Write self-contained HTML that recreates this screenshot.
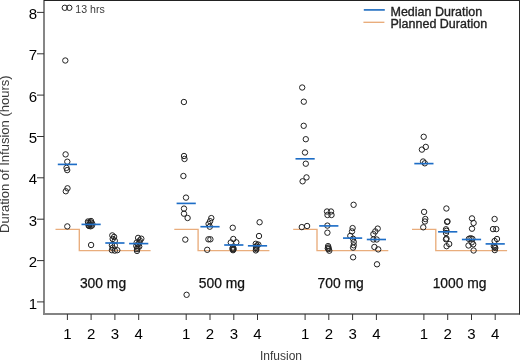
<!DOCTYPE html><html><head><meta charset="utf-8"><style>html,body{margin:0;padding:0;background:#fff;}svg{display:block;will-change:transform;}text{font-family:"Liberation Sans",sans-serif;}</style></head><body>
<svg width="520" height="360" viewBox="0 0 520 360">
<rect width="520" height="360" fill="#fff"/>
<path d="M55.5 229.3 H79.3 V250.6 H150.6" fill="none" stroke="#e9ad7c" stroke-width="1.35"/>
<path d="M174.3 229.3 H198.1 V250.6 H269.4" fill="none" stroke="#e9ad7c" stroke-width="1.35"/>
<path d="M293.2 229.3 H317.0 V250.6 H388.3" fill="none" stroke="#e9ad7c" stroke-width="1.35"/>
<path d="M412.0 229.3 H435.8 V250.6 H507.1" fill="none" stroke="#e9ad7c" stroke-width="1.35"/>
<g fill="none" stroke="#222" stroke-width="1.0">
<circle cx="64.8" cy="7.8" r="2.7"/>
<circle cx="69.3" cy="7.8" r="2.7"/>
<circle cx="65.3" cy="60.5" r="2.7"/>
<circle cx="65.6" cy="154.4" r="2.7"/>
<circle cx="67.3" cy="161.7" r="2.7"/>
<circle cx="66.5" cy="167.9" r="2.7"/>
<circle cx="67.2" cy="170.1" r="2.7"/>
<circle cx="67.5" cy="188.3" r="2.7"/>
<circle cx="65.8" cy="191.25" r="2.7"/>
<circle cx="67.3" cy="226.4" r="2.7"/>
<circle cx="88" cy="221.5" r="2.7"/>
<circle cx="91" cy="221" r="2.7"/>
<circle cx="89.5" cy="224" r="2.7"/>
<circle cx="92" cy="225.5" r="2.7"/>
<circle cx="89" cy="226" r="2.7"/>
<circle cx="88.2" cy="222.8" r="2.7"/>
<circle cx="90.5" cy="222.2" r="2.7"/>
<circle cx="92.2" cy="223.5" r="2.7"/>
<circle cx="88.5" cy="225.2" r="2.7"/>
<circle cx="90.6" cy="226.3" r="2.7"/>
<circle cx="91.1" cy="245" r="2.7"/>
<circle cx="112.3" cy="235.4" r="2.7"/>
<circle cx="114.1" cy="236.9" r="2.7"/>
<circle cx="112.7" cy="239" r="2.7"/>
<circle cx="114.8" cy="240.8" r="2.7"/>
<circle cx="111.9" cy="245.2" r="2.7"/>
<circle cx="114.8" cy="245.5" r="2.7"/>
<circle cx="112.7" cy="247.7" r="2.7"/>
<circle cx="111.9" cy="250.2" r="2.7"/>
<circle cx="114.8" cy="250.6" r="2.7"/>
<circle cx="117.3" cy="250.2" r="2.7"/>
<circle cx="138.1" cy="237.9" r="2.7"/>
<circle cx="141.3" cy="238.7" r="2.7"/>
<circle cx="136.7" cy="242.6" r="2.7"/>
<circle cx="139.5" cy="242.3" r="2.7"/>
<circle cx="136.3" cy="245.9" r="2.7"/>
<circle cx="139.2" cy="246.6" r="2.7"/>
<circle cx="137" cy="249.1" r="2.7"/>
<circle cx="137" cy="250.9" r="2.7"/>
<circle cx="138" cy="244.2" r="2.7"/>
<circle cx="137.6" cy="247.6" r="2.7"/>
<circle cx="139.8" cy="240.4" r="2.7"/>
<circle cx="183.9" cy="102" r="2.7"/>
<circle cx="184" cy="156" r="2.7"/>
<circle cx="184.5" cy="159" r="2.7"/>
<circle cx="183.4" cy="176" r="2.7"/>
<circle cx="186" cy="197.6" r="2.7"/>
<circle cx="184" cy="208.6" r="2.7"/>
<circle cx="184" cy="213.7" r="2.7"/>
<circle cx="187.6" cy="218" r="2.7"/>
<circle cx="185.3" cy="239.6" r="2.7"/>
<circle cx="186.6" cy="294.8" r="2.7"/>
<circle cx="211.3" cy="218.1" r="2.7"/>
<circle cx="210.1" cy="221.2" r="2.7"/>
<circle cx="208.6" cy="223.9" r="2.7"/>
<circle cx="209.8" cy="226.7" r="2.7"/>
<circle cx="208.4" cy="239.3" r="2.7"/>
<circle cx="210.4" cy="239.3" r="2.7"/>
<circle cx="207.2" cy="249.8" r="2.7"/>
<circle cx="232.75" cy="227.75" r="2.7"/>
<circle cx="233.3" cy="239" r="2.7"/>
<circle cx="236.3" cy="242.3" r="2.7"/>
<circle cx="230.8" cy="242.5" r="2.7"/>
<circle cx="233" cy="247.5" r="2.7"/>
<circle cx="233" cy="250.2" r="2.7"/>
<circle cx="233.6" cy="249" r="2.7"/>
<circle cx="232.4" cy="248.6" r="2.7"/>
<circle cx="233" cy="249.4" r="2.7"/>
<circle cx="259.6" cy="222.25" r="2.7"/>
<circle cx="259" cy="236" r="2.7"/>
<circle cx="255.8" cy="243.8" r="2.7"/>
<circle cx="258.3" cy="244.6" r="2.7"/>
<circle cx="256.3" cy="246.8" r="2.7"/>
<circle cx="255.8" cy="250.4" r="2.7"/>
<circle cx="256.4" cy="249.2" r="2.7"/>
<circle cx="256" cy="248" r="2.7"/>
<circle cx="257" cy="245.5" r="2.7"/>
<circle cx="302.2" cy="87.5" r="2.7"/>
<circle cx="303.8" cy="101.7" r="2.7"/>
<circle cx="303.7" cy="125.8" r="2.7"/>
<circle cx="305.8" cy="139.2" r="2.7"/>
<circle cx="305" cy="152.5" r="2.7"/>
<circle cx="305.8" cy="163.7" r="2.7"/>
<circle cx="306.5" cy="177.4" r="2.7"/>
<circle cx="302.6" cy="181.3" r="2.7"/>
<circle cx="301.8" cy="227.1" r="2.7"/>
<circle cx="307.1" cy="226" r="2.7"/>
<circle cx="327" cy="211.5" r="2.7"/>
<circle cx="331" cy="211.5" r="2.7"/>
<circle cx="327.5" cy="215" r="2.7"/>
<circle cx="331.5" cy="215" r="2.7"/>
<circle cx="327.4" cy="225.6" r="2.7"/>
<circle cx="327.4" cy="232.7" r="2.7"/>
<circle cx="328.1" cy="246.1" r="2.7"/>
<circle cx="328.7" cy="249.1" r="2.7"/>
<circle cx="329.3" cy="250.7" r="2.7"/>
<circle cx="327.8" cy="248.4" r="2.7"/>
<circle cx="328.4" cy="247.5" r="2.7"/>
<circle cx="353.6" cy="204.8" r="2.7"/>
<circle cx="352.6" cy="228.1" r="2.7"/>
<circle cx="352" cy="231.4" r="2.7"/>
<circle cx="350.3" cy="235.9" r="2.7"/>
<circle cx="353.1" cy="238.7" r="2.7"/>
<circle cx="353.7" cy="242" r="2.7"/>
<circle cx="353.7" cy="245.3" r="2.7"/>
<circle cx="353.1" cy="247.6" r="2.7"/>
<circle cx="353.1" cy="257.3" r="2.7"/>
<circle cx="377.7" cy="228.6" r="2.7"/>
<circle cx="375.3" cy="231.4" r="2.7"/>
<circle cx="373.4" cy="234.1" r="2.7"/>
<circle cx="373.4" cy="239.5" r="2.7"/>
<circle cx="376.7" cy="239.5" r="2.7"/>
<circle cx="374.4" cy="247" r="2.7"/>
<circle cx="378.2" cy="249.4" r="2.7"/>
<circle cx="377" cy="264.3" r="2.7"/>
<circle cx="423.7" cy="136.8" r="2.7"/>
<circle cx="425.8" cy="146.9" r="2.7"/>
<circle cx="421.9" cy="149.6" r="2.7"/>
<circle cx="423.1" cy="161.5" r="2.7"/>
<circle cx="424.8" cy="163.3" r="2.7"/>
<circle cx="424.1" cy="211.9" r="2.7"/>
<circle cx="425.3" cy="219" r="2.7"/>
<circle cx="424.9" cy="221.5" r="2.7"/>
<circle cx="423.25" cy="227.3" r="2.7"/>
<circle cx="446.4" cy="208.5" r="2.7"/>
<circle cx="447.1" cy="221.9" r="2.7"/>
<circle cx="447.5" cy="221.4" r="2.7"/>
<circle cx="446" cy="229.3" r="2.7"/>
<circle cx="446.4" cy="230.8" r="2.7"/>
<circle cx="446" cy="233" r="2.7"/>
<circle cx="446" cy="239.3" r="2.7"/>
<circle cx="446.5" cy="238.6" r="2.7"/>
<circle cx="449.2" cy="244" r="2.7"/>
<circle cx="446.6" cy="246.2" r="2.7"/>
<circle cx="472" cy="218.4" r="2.7"/>
<circle cx="473.6" cy="223" r="2.7"/>
<circle cx="472" cy="228.7" r="2.7"/>
<circle cx="468.9" cy="238.9" r="2.7"/>
<circle cx="470.6" cy="238.2" r="2.7"/>
<circle cx="472.4" cy="238.9" r="2.7"/>
<circle cx="471.7" cy="242.4" r="2.7"/>
<circle cx="468.5" cy="245.5" r="2.7"/>
<circle cx="473.2" cy="244.3" r="2.7"/>
<circle cx="473.6" cy="250.5" r="2.7"/>
<circle cx="494.6" cy="219" r="2.7"/>
<circle cx="493" cy="229.1" r="2.7"/>
<circle cx="496.3" cy="229.1" r="2.7"/>
<circle cx="497" cy="239" r="2.7"/>
<circle cx="494.6" cy="241" r="2.7"/>
<circle cx="493.8" cy="246.2" r="2.7"/>
<circle cx="494.8" cy="247" r="2.7"/>
<circle cx="495.3" cy="248" r="2.7"/>
<circle cx="494.8" cy="250.1" r="2.7"/>
</g>
<line x1="57.8" y1="164.4" x2="77.0" y2="164.4" stroke="#1d6dc6" stroke-width="1.65"/>
<line x1="81.5" y1="224.4" x2="100.7" y2="224.4" stroke="#1d6dc6" stroke-width="1.65"/>
<line x1="105.3" y1="243" x2="124.5" y2="243" stroke="#1d6dc6" stroke-width="1.65"/>
<line x1="129.1" y1="243.6" x2="148.3" y2="243.6" stroke="#1d6dc6" stroke-width="1.65"/>
<line x1="176.6" y1="203.4" x2="195.8" y2="203.4" stroke="#1d6dc6" stroke-width="1.65"/>
<line x1="200.4" y1="226.7" x2="219.6" y2="226.7" stroke="#1d6dc6" stroke-width="1.65"/>
<line x1="224.2" y1="245" x2="243.4" y2="245" stroke="#1d6dc6" stroke-width="1.65"/>
<line x1="247.9" y1="245.8" x2="267.1" y2="245.8" stroke="#1d6dc6" stroke-width="1.65"/>
<line x1="295.5" y1="158.8" x2="314.7" y2="158.8" stroke="#1d6dc6" stroke-width="1.65"/>
<line x1="319.2" y1="225.9" x2="338.4" y2="225.9" stroke="#1d6dc6" stroke-width="1.65"/>
<line x1="343.0" y1="238.1" x2="362.2" y2="238.1" stroke="#1d6dc6" stroke-width="1.65"/>
<line x1="366.8" y1="239.5" x2="386.0" y2="239.5" stroke="#1d6dc6" stroke-width="1.65"/>
<line x1="414.3" y1="163.6" x2="433.5" y2="163.6" stroke="#1d6dc6" stroke-width="1.65"/>
<line x1="438.1" y1="231.8" x2="457.3" y2="231.8" stroke="#1d6dc6" stroke-width="1.65"/>
<line x1="461.9" y1="239.5" x2="481.1" y2="239.5" stroke="#1d6dc6" stroke-width="1.65"/>
<line x1="485.6" y1="243.9" x2="504.8" y2="243.9" stroke="#1d6dc6" stroke-width="1.65"/>
<rect x="43" y="0" width="2" height="315" fill="#868686"/>
<rect x="43" y="313" width="477" height="2" fill="#838383"/>
<rect x="44" y="0" width="476" height="1" fill="#222"/>
<rect x="519" y="0" width="1" height="314.5" fill="#282828"/>
<line x1="37" y1="301.9" x2="44" y2="301.9" stroke="#333" stroke-width="1"/>
<text x="37" y="308.5" font-size="15" text-anchor="end" fill="#000">1</text>
<line x1="37" y1="260.6" x2="44" y2="260.6" stroke="#333" stroke-width="1"/>
<text x="37" y="267.2" font-size="15" text-anchor="end" fill="#000">2</text>
<line x1="37" y1="219.2" x2="44" y2="219.2" stroke="#333" stroke-width="1"/>
<text x="37" y="225.8" font-size="15" text-anchor="end" fill="#000">3</text>
<line x1="37" y1="177.8" x2="44" y2="177.8" stroke="#333" stroke-width="1"/>
<text x="37" y="184.4" font-size="15" text-anchor="end" fill="#000">4</text>
<line x1="37" y1="136.5" x2="44" y2="136.5" stroke="#333" stroke-width="1"/>
<text x="37" y="143.1" font-size="15" text-anchor="end" fill="#000">5</text>
<line x1="37" y1="95.1" x2="44" y2="95.1" stroke="#333" stroke-width="1"/>
<text x="37" y="101.7" font-size="15" text-anchor="end" fill="#000">6</text>
<line x1="37" y1="53.8" x2="44" y2="53.8" stroke="#333" stroke-width="1"/>
<text x="37" y="60.4" font-size="15" text-anchor="end" fill="#000">7</text>
<line x1="37" y1="12.4" x2="44" y2="12.4" stroke="#333" stroke-width="1"/>
<text x="37" y="19.0" font-size="15" text-anchor="end" fill="#000">8</text>
<line x1="67.4" y1="314" x2="67.4" y2="320" stroke="#333" stroke-width="1"/>
<text x="67.4" y="339.2" font-size="15" text-anchor="middle" fill="#000">1</text>
<line x1="91.1" y1="314" x2="91.1" y2="320" stroke="#333" stroke-width="1"/>
<text x="91.1" y="339.2" font-size="15" text-anchor="middle" fill="#000">2</text>
<line x1="114.9" y1="314" x2="114.9" y2="320" stroke="#333" stroke-width="1"/>
<text x="114.9" y="339.2" font-size="15" text-anchor="middle" fill="#000">3</text>
<line x1="138.7" y1="314" x2="138.7" y2="320" stroke="#333" stroke-width="1"/>
<text x="138.7" y="339.2" font-size="15" text-anchor="middle" fill="#000">4</text>
<line x1="186.2" y1="314" x2="186.2" y2="320" stroke="#333" stroke-width="1"/>
<text x="186.2" y="339.2" font-size="15" text-anchor="middle" fill="#000">1</text>
<line x1="210.0" y1="314" x2="210.0" y2="320" stroke="#333" stroke-width="1"/>
<text x="210.0" y="339.2" font-size="15" text-anchor="middle" fill="#000">2</text>
<line x1="233.8" y1="314" x2="233.8" y2="320" stroke="#333" stroke-width="1"/>
<text x="233.8" y="339.2" font-size="15" text-anchor="middle" fill="#000">3</text>
<line x1="257.5" y1="314" x2="257.5" y2="320" stroke="#333" stroke-width="1"/>
<text x="257.5" y="339.2" font-size="15" text-anchor="middle" fill="#000">4</text>
<line x1="305.1" y1="314" x2="305.1" y2="320" stroke="#333" stroke-width="1"/>
<text x="305.1" y="339.2" font-size="15" text-anchor="middle" fill="#000">1</text>
<line x1="328.8" y1="314" x2="328.8" y2="320" stroke="#333" stroke-width="1"/>
<text x="328.8" y="339.2" font-size="15" text-anchor="middle" fill="#000">2</text>
<line x1="352.6" y1="314" x2="352.6" y2="320" stroke="#333" stroke-width="1"/>
<text x="352.6" y="339.2" font-size="15" text-anchor="middle" fill="#000">3</text>
<line x1="376.4" y1="314" x2="376.4" y2="320" stroke="#333" stroke-width="1"/>
<text x="376.4" y="339.2" font-size="15" text-anchor="middle" fill="#000">4</text>
<line x1="423.9" y1="314" x2="423.9" y2="320" stroke="#333" stroke-width="1"/>
<text x="423.9" y="339.2" font-size="15" text-anchor="middle" fill="#000">1</text>
<line x1="447.7" y1="314" x2="447.7" y2="320" stroke="#333" stroke-width="1"/>
<text x="447.7" y="339.2" font-size="15" text-anchor="middle" fill="#000">2</text>
<line x1="471.5" y1="314" x2="471.5" y2="320" stroke="#333" stroke-width="1"/>
<text x="471.5" y="339.2" font-size="15" text-anchor="middle" fill="#000">3</text>
<line x1="495.2" y1="314" x2="495.2" y2="320" stroke="#333" stroke-width="1"/>
<text x="495.2" y="339.2" font-size="15" text-anchor="middle" fill="#000">4</text>
<text x="103.0" y="287.8" font-size="13.85" text-anchor="middle" fill="#111" stroke="#111" stroke-width="0.25">300 mg</text>
<text x="221.9" y="287.8" font-size="13.85" text-anchor="middle" fill="#111" stroke="#111" stroke-width="0.25">500 mg</text>
<text x="340.7" y="287.8" font-size="13.85" text-anchor="middle" fill="#111" stroke="#111" stroke-width="0.25">700 mg</text>
<text x="459.6" y="287.8" font-size="13.85" text-anchor="middle" fill="#111" stroke="#111" stroke-width="0.25">1000 mg</text>
<text x="75.3" y="12.8" font-size="10.6" fill="#3a3a3a">13 hrs</text>
<line x1="363.8" y1="9.9" x2="384.8" y2="9.9" stroke="#3179c6" stroke-width="1.8"/>
<line x1="363.4" y1="22.3" x2="384.4" y2="22.3" stroke="#e9ad7c" stroke-width="1.35"/>
<text x="390.5" y="15.5" font-size="12.5" fill="#222" stroke="#222" stroke-width="0.35">Median Duration</text>
<text x="390.5" y="27.6" font-size="12.5" fill="#222" stroke="#222" stroke-width="0.35">Planned Duration</text>
<text transform="translate(8.8,154.2) rotate(-90)" font-size="13" text-anchor="middle" fill="#3a3a3a">Duration of Infusion (hours)</text>
<text x="281" y="360" font-size="12" text-anchor="middle" fill="#3a3a3a">Infusion</text>
</svg></body></html>
